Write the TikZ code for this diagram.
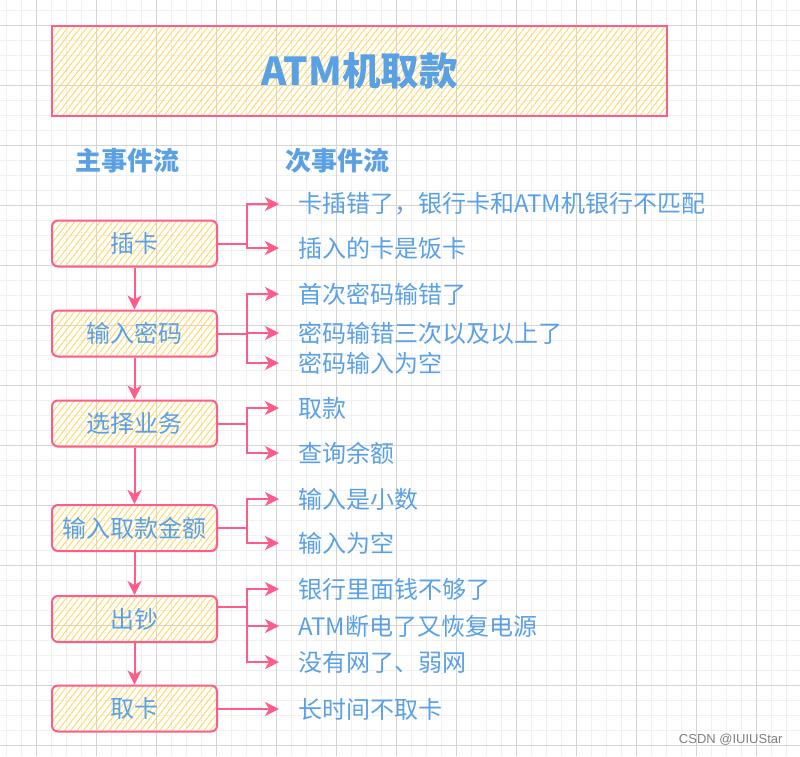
\documentclass[tikz,border=0pt]{standalone}
\usepackage{fontspec}
\setmainfont{Liberation Sans}
\newfontfamily\cjk{Noto Sans CJK SC}
\usetikzlibrary{arrows.meta, positioning, calc, patterns.meta}
\definecolor{sketchpink}{RGB}{255,92,138}
\definecolor{hatchyellow}{RGB}{255,215,90}
\definecolor{textblue}{RGB}{90,160,228}
\definecolor{gridmajor}{RGB}{212,212,212}
\definecolor{gridminor}{RGB}{240,240,240}

\begin{document}
\begin{tikzpicture}[x=1pt, y=-1pt, font=\cjk]
  \tikzset{
    hatch/.style={
      draw=sketchpink, line width=2pt,
      pattern={Lines[angle=52, distance=5pt, line width=0.9pt]},
      pattern color=hatchyellow
    },
    mainbox/.style={
      hatch, rectangle, rounded corners=6pt,
      minimum width=165pt, minimum height=46pt,
      text=textblue, font=\cjk\fontsize{24}{28}\selectfont
    },
    subtext/.style={
      anchor=west, inner xsep=19pt, inner ysep=0pt,
      text=textblue, font=\cjk\fontsize{24}{28}\selectfont
    },
    header/.style={text=textblue, font=\cjk\bfseries\fontsize{26}{30}\selectfont},
    flow/.style={
      -{Stealth[length=14pt, width=14pt, inset=4pt]},
      draw=sketchpink, line width=2pt
    }
  }
  \useasboundingbox (0,0) rectangle (800,756);
  % background grid
  \foreach \x in {6,21,...,800} \draw[gridminor, line width=1pt] (\x,0) -- (\x,756);
  \foreach \y in {10,25,...,756} \draw[gridminor, line width=1pt] (0,\y) -- (800,\y);
  \foreach \x in {36,96,...,800} \draw[gridmajor, line width=1pt] (\x,0) -- (\x,756);
  \foreach \y in {25,85,...,756} \draw[gridmajor, line width=1pt] (0,\y) -- (800,\y);

  % title and column headers
  \node[hatch, rectangle, minimum width=615pt, minimum height=90pt,
        text=textblue, font=\cjk\bfseries\fontsize{38.5}{44}\selectfont]
        (title) at (359.5,71) {ATM机取款};
  \node[header] (mainhd) at (127,161) {主事件流};
  \node[header] (subhd) at (337,161) {次事件流};

  % main flow
  \node[mainbox] (b1) at (134.5,243.5) {插卡};
  \node[mainbox] (b2) at (134.5,333.5) {输入密码};
  \node[mainbox] (b3) at (134.5,423.5) {选择业务};
  \node[mainbox] (b4) at (134.5,528) {输入取款金额};
  \node[mainbox] (b5) at (134.5,619) {出钞};
  \node[mainbox] (b6) at (134.5,708.5) {取卡};
  \foreach \from/\to in {b1/b2, b2/b3, b3/b4, b4/b5, b5/b6}{
    \draw[flow] (\from) -- (\to);
  }

  % alternative flows
  \node[subtext] (t11) at (279,204) {卡插错了，银行卡和ATM机银行不匹配};
  \node[subtext] (t12) at (279,248) {插入的卡是饭卡};
  \node[subtext] (t21) at (279,294) {首次密码输错了};
  \node[subtext] (t22) at (279,333) {密码输错三次以及以上了};
  \node[subtext] (t23) at (279,363) {密码输入为空};
  \node[subtext] (t31) at (279,408) {取款};
  \node[subtext] (t32) at (279,453) {查询余额};
  \node[subtext] (t41) at (279,499) {输入是小数};
  \node[subtext] (t42) at (279,543) {输入为空};
  \node[subtext] (t51) at (279,589) {银行里面钱不够了};
  \node[subtext] (t52) at (279,626) {ATM断电了又恢复电源};
  \node[subtext] (t53) at (279,662) {没有网了、弱网};
  \node[subtext] (t61) at (279,709) {长时间不取卡};
  \coordinate (b5out) at ($(b5.east)+(0,-12)$);
  \foreach \src/\dst in {b1.east/t11, b1.east/t12, b2.east/t21, b2.east/t22, b2.east/t23,
                         b3.east/t31, b3.east/t32, b4.east/t41, b4.east/t42,
                         b5out/t51, b5out/t52, b5out/t53, b6.east/t61}{
    \draw[flow] (\src) -- ++(29,0) |- (\dst.west);
  }

  \node[anchor=east, text=gray, font=\rmfamily\fontsize{13}{15}\selectfont]
        (mark) at (786,740) {CSDN @IUIUStar};
\end{tikzpicture}
\end{document}
